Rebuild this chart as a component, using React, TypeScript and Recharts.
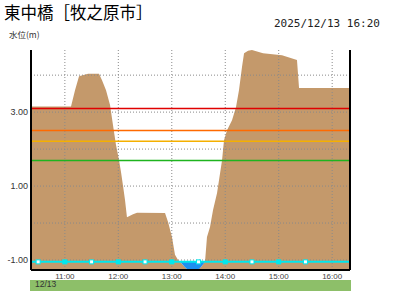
import { ComposedChart, Area, XAxis, YAxis, ReferenceLine, Scatter } from "recharts";

// x in minutes since 10:00
const X_MIN = 22;
const X_MAX = 380;
const Y_MIN = -1.27;
const Y_MAX = 4.68;

const profileX = [
  22, 66.9, 71.4, 75.9, 86, 98.3, 101.7, 106.2, 110.7, 114, 117.4, 120.8, 123,
  125.3, 127.5, 129.7, 136.5, 141, 172.4, 175.8, 180.2, 183.6, 187, 189.2,
  191.5, 196, 200.4, 207.2, 212.8, 217.3, 219.5, 222.9, 226.3, 230.8, 236.4,
  238.6, 242, 247.6, 252.1, 255.4, 258.8, 261.1, 265.6, 270, 282.4, 303.7,
  320.5, 322.8, 380,
];
const profileY = [
  3.15, 3.15, 3.59, 3.97, 4.04, 4.04, 3.86, 3.59, 3.19, 2.65, 2.11, 1.7, 1.38,
  1.0, 0.62, 0.16, 0.24, 0.28, 0.27, 0.03, -0.38, -0.86, -1.0, -1.05, -1.11,
  -1.22, -1.27, -1.27, -1.19, -1.05, -0.38, -0.11, 0.35, 0.81, 1.7, 2.24,
  2.51, 2.78, 3.14, 3.59, 4.22, 4.59, 4.66, 4.68, 4.59, 4.54, 4.41, 3.65,
  3.65,
];

const WATER_LEVEL = -1.05;
const levelTimes = [30, 60, 90, 120, 150, 180, 210, 240, 270, 300, 330];

const thresholds = [
  { value: 3.1, color: "#e00000" },
  { value: 2.5, color: "#ff6a00" },
  { value: 2.21, color: "#f5b000" },
  { value: 1.69, color: "#1eb41e" },
];

const hourTicks = [60, 120, 180, 240, 300, 360];
const yTicks = [-1, 0, 1, 2, 3, 4];

const rows = profileX.map((t, i) => ({
  t,
  ground: profileY[i],
  water: profileY[i] <= WATER_LEVEL ? [profileY[i], WATER_LEVEL] : null,
}));

const levelRows = levelTimes.map((t) => ({ t, level: WATER_LEVEL }));

const fmtTime = (m: number) =>
  `${10 + Math.floor(m / 60)}:${String(m % 60).padStart(2, "0")}`;

const Marker = (props: any) => {
  const { cx, cy, payload } = props;
  const onHour = payload.t % 60 === 0;
  return (
    <rect
      x={cx - 2}
      y={cy - 2}
      width={4}
      height={4}
      fill={onHour ? "#00e8ee" : "#ffffff"}
      stroke="#00e8ee"
      strokeWidth={1}
    />
  );
};

export default function App() {
  return (
    <div
      style={{
        position: "absolute",
        left: 0,
        top: 0,
        width: 400,
        height: 300,
        background: "#fff",
        fontFamily: "'Noto Sans CJK JP', sans-serif",
      }}
    >
      <div
        style={{
          position: "absolute",
          left: 4,
          top: 0,
          fontSize: 16.5,
          lineHeight: "normal",
          color: "#000",
        }}
      >
        東中橋［牧之原市］
      </div>
      <div
        style={{
          position: "absolute",
          left: 274,
          top: 17,
          fontSize: 11,
          fontFamily: "'DejaVu Sans Mono', monospace",
          color: "#222",
        }}
      >
        2025/12/13 16:20
      </div>
      <div style={{ position: "absolute", left: 9, top: 28, fontSize: 8.5, color: "#333" }}>
        水位(m)
      </div>

      <ComposedChart
        width={400}
        height={300}
        data={rows}
        margin={{ top: 50, right: 50, left: 0, bottom: 0 }}
      >
        <XAxis
          dataKey="t"
          type="number"
          domain={[X_MIN, X_MAX]}
          ticks={hourTicks}
          tickFormatter={fmtTime}
          allowDataOverflow
          height={30}
          tickSize={0}
          tickMargin={3}
          axisLine={{ stroke: "#000", strokeWidth: 2 }}
          tick={{ fontSize: 8, fill: "#444", fontFamily: "'Liberation Sans', sans-serif" }}
        />
        <YAxis
          type="number"
          domain={[Y_MIN, Y_MAX]}
          ticks={yTicks}
          allowDataOverflow
          width={31}
          tickSize={0}
          tickMargin={3}
          tickFormatter={(v: number) => (v % 2 !== 0 ? v.toFixed(2) : "")}
          axisLine={{ stroke: "#000", strokeWidth: 2 }}
          tick={{ fontSize: 9, fill: "#333", fontFamily: "'Liberation Sans', sans-serif" }}
        />
        <Area
          dataKey="ground"
          type="linear"
          baseValue={Y_MIN}
          stroke="none"
          fill="#c4996b"
          fillOpacity={1}
          isAnimationActive={false}
        />
        <Area
          dataKey="water"
          type="monotone"
          stroke="none"
          fill="#1e90f0"
          fillOpacity={1}
          isAnimationActive={false}
        />
        {yTicks.map((v) => (
          <ReferenceLine key={`h${v}`} y={v} stroke="#8a8a8a" strokeDasharray="1 2" />
        ))}
        {hourTicks.map((v) => (
          <ReferenceLine key={`v${v}`} x={v} stroke="#8a8a8a" strokeDasharray="1 2" />
        ))}
        {thresholds.map((th) => (
          <ReferenceLine key={th.color} y={th.value} stroke={th.color} strokeWidth={1.5} />
        ))}
        <ReferenceLine y={WATER_LEVEL} stroke="#00e8ee" strokeWidth={2} />
        <ReferenceLine x={X_MAX} stroke="#000" strokeWidth={2} />
        <Scatter
          data={levelRows}
          dataKey="level"
          shape={Marker}
          isAnimationActive={false}
        />
      </ComposedChart>

      <div
        style={{
          position: "absolute",
          left: 30,
          top: 280,
          width: 321,
          height: 11,
          background: "#8dbf69",
        }}
      >
        <span
          style={{
            position: "absolute",
            left: 5,
            top: -1,
            fontSize: 8.5,
            color: "#333",
            fontFamily: "'Liberation Sans', sans-serif",
          }}
        >
          12/13
        </span>
      </div>
    </div>
  );
}
